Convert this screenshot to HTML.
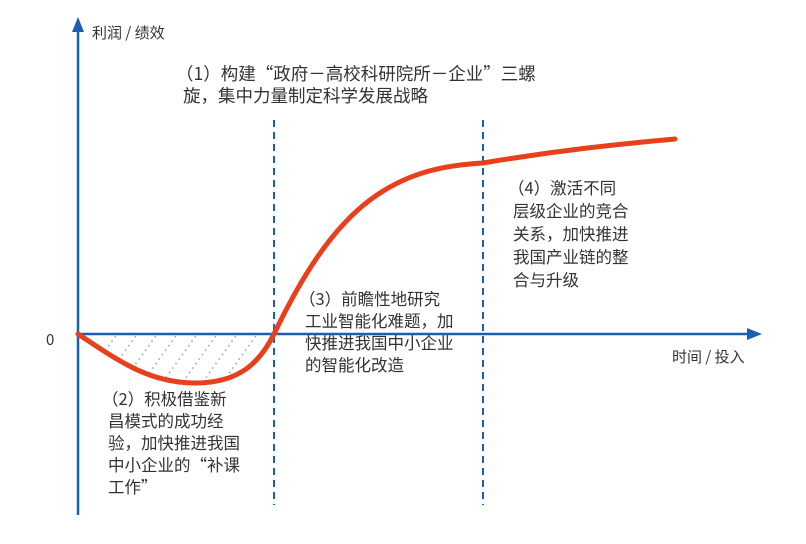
<!DOCTYPE html>
<html><head><meta charset="utf-8"><style>
body{margin:0;background:#fff;}
svg text{font-family:"Noto Sans CJK SC","Liberation Sans",sans-serif;font-size:16.5px;fill:#333;}
svg text.ax{font-size:15px;}
svg text.t1{font-size:17.5px;}
</style></head><body>
<svg width="806" height="539" viewBox="0 0 806 539" xmlns="http://www.w3.org/2000/svg">
<defs>
<clipPath id="c"><path d="M78,334 C120,362 150,383 195,383 C240,383 260,362 274,334 Z"/></clipPath>
</defs>
<g clip-path="url(#c)" stroke="#8aaa98" stroke-width="1.5" stroke-dasharray="1.5,4">
<line x1="90" y1="400" x2="140" y2="330"/><line x1="110" y1="400" x2="160" y2="330"/>
<line x1="130" y1="400" x2="180" y2="330"/><line x1="150" y1="400" x2="200" y2="330"/>
<line x1="170" y1="400" x2="220" y2="330"/><line x1="190" y1="400" x2="240" y2="330"/>
<line x1="210" y1="400" x2="260" y2="330"/><line x1="230" y1="400" x2="280" y2="330"/>
<line x1="250" y1="400" x2="300" y2="330"/><line x1="70" y1="400" x2="120" y2="330"/>
</g>
<g stroke="#1a5fb4" stroke-width="2" stroke-dasharray="7,5">
<line x1="274" y1="120" x2="274" y2="505"/><line x1="483" y1="120" x2="483" y2="505"/>
</g>
<line x1="78" y1="515" x2="78" y2="28" stroke="#1a5fb4" stroke-width="2.5"/>
<polygon points="78,17 72,32 84,32" fill="#1a5fb4"/>
<line x1="78" y1="334" x2="750" y2="334" stroke="#1a5fb4" stroke-width="2.5"/>
<polygon points="762,334 747,328 747,340" fill="#1a5fb4"/>
<path d="M78,334 C120,362 150,383 195,383 C240,383 260,362 274,334 C300,280 330,230 370,200 C410,170 450,165 483,163 C560,150 620,144 675,139" fill="none" stroke="#e8401c" stroke-width="5" stroke-linecap="round"/>
<text class="ax" x="92" y="38">利润 / 绩效</text>
<text class="ax" x="46" y="345">0</text>
<text class="ax" x="672" y="362">时间 / 投入</text>
<text class="t1" x="176" y="80">（1）构建“政府－高校科研院所－企业”三螺</text>
<text class="t1" x="183" y="102">旋，集中力量制定科学发展战略</text>
<text x="102" y="405">（2）积极借鉴新</text>
<text x="108" y="427">昌模式的成功经</text>
<text x="108" y="449">验，加快推进我国</text>
<text x="108" y="471">中小企业的“补课</text>
<text x="108" y="493">工作”</text>
<text x="299" y="305">（3）前瞻性地研究</text>
<text x="305" y="327">工业智能化难题，加</text>
<text x="305" y="349">快推进我国中小企业</text>
<text x="305" y="371">的智能化改造</text>
<text x="508" y="194">（4）激活不同</text>
<text x="513" y="217">层级企业的竞合</text>
<text x="513" y="240">关系，加快推进</text>
<text x="513" y="263">我国产业链的整</text>
<text x="513" y="286">合与升级</text>
</svg>
</body></html>
